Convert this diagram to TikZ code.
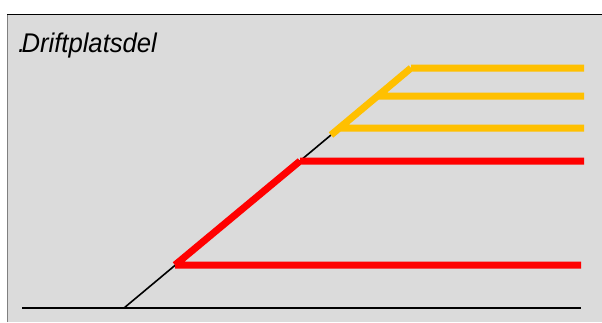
\documentclass[tikz,border=0pt]{standalone}
\usepackage{fontspec}
\setmainfont{Liberation Sans}
\definecolor{bggray}{RGB}{219,219,219}
\definecolor{spurred}{RGB}{255,0,0}
\definecolor{spurgold}{RGB}{255,192,0}
\begin{document}
\begin{tikzpicture}[x=1pt,y=-1pt, line join=round,
	track/.style={line width=1.6pt},
	redspur/.style={line width=7pt,color=spurred},
	goldspur/.style={line width=7pt,color=spurgold}]
	\useasboundingbox (0,0) rectangle (602,322);
	\fill[white] (0,0) rectangle (602,322);
	\fill[bggray] (7,14) rectangle (602,322);
	\draw[gray,line width=1pt] (7,322)--(7,14);
	\draw[line width=1pt] (7,14)--(602,14);
	\node[anchor=base west,inner sep=0pt,xscale=0.95,font=\itshape\fontsize{27}{30}\selectfont] (titel) at (18,52) {.\kern-4pt Driftplatsdel};
	% punkter längs växeln
	\coordinate (b0) at (22,308); \coordinate (e0) at (581,308);
	\coordinate (s0) at (124,308);
	\coordinate (r1) at (175,265); \coordinate (er1) at (581,265);
	\coordinate (r2) at (300,161); \coordinate (er2) at (584,161);
	\coordinate (o1) at (331,135);
	\coordinate (o2) at (339,128); \coordinate (eo2) at (584,128);
	\coordinate (o3) at (377,96);  \coordinate (eo3) at (584,96);
	\coordinate (o4) at (411,68);  \coordinate (eo4) at (584,68);
	\draw[line width=2.2pt] (b0)--(e0);
	\draw[track] (s0)--(o1);
	\draw[redspur] (r1)--(r2) (r1)--(er1) (r2)--(er2);
	\draw[goldspur] (o1)--(o4) (o2)--(eo2) (o3)--(eo3) (o4)--(eo4);
\end{tikzpicture}
\end{document}
